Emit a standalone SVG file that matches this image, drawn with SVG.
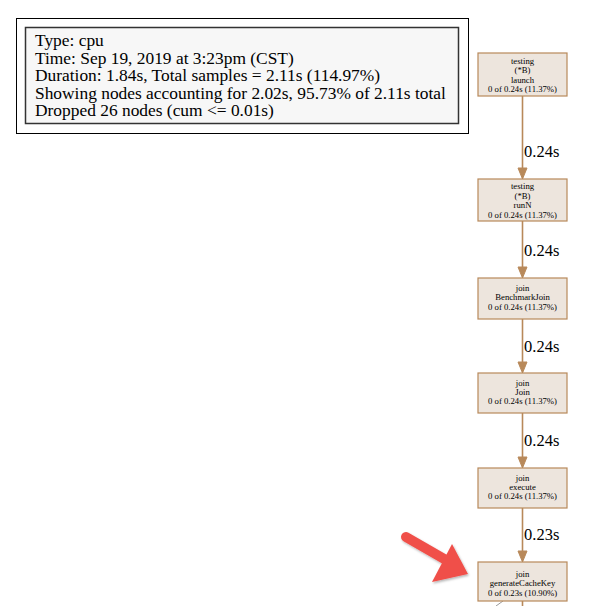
<svg xmlns="http://www.w3.org/2000/svg" width="608" height="606" viewBox="0 0 608 606">
<defs>
<style>
.hdr{font-family:"Liberation Serif","Times New Roman",serif;font-size:17.4px;fill:#000}
.node rect{fill:#ede5dd;stroke:#b8895a;stroke-width:1.2}
.node text{font-family:"Liberation Serif","Times New Roman",serif;font-size:8.7px;fill:#000;text-anchor:middle}
.edge line{stroke:#b8895a;stroke-width:1.6}
.edge polygon{fill:#b8895a;stroke:#b8895a}
.elabel{font-family:"Liberation Serif","Times New Roman",serif;font-size:16.5px;fill:#000}
</style>
<filter id="sh" x="-20%" y="-20%" width="140%" height="140%">
<feDropShadow dx="1" dy="1.5" stdDeviation="1.2" flood-color="#000" flood-opacity="0.3"/>
</filter>
</defs>
<rect width="608" height="606" fill="#fff"/>
<g id="legend">
<rect x="16.5" y="18.5" width="452" height="115" fill="#fff" stroke="#000" stroke-width="1"/>
<rect x="25.5" y="27.5" width="433" height="96" fill="#f7f7f7" stroke="#333" stroke-width="1.5"/>
<text class="hdr" x="35" y="46">Type: cpu</text>
<text class="hdr" x="35" y="63.5">Time: Sep 19, 2019 at 3:23pm (CST)</text>
<text class="hdr" x="35" y="81">Duration: 1.84s, Total samples = 2.11s (114.97%)</text>
<text class="hdr" x="35" y="98.5">Showing nodes accounting for 2.02s, 95.73% of 2.11s total</text>
<text class="hdr" x="35" y="116">Dropped 26 nodes (cum &lt;= 0.01s)</text>
</g>
<g id="edges" class="edge">
<line x1="522.5" y1="96" x2="522.5" y2="169"/>
<polygon points="518,168 527,168 522.5,179"/>
<text class="elabel" x="524" y="157">0.24s</text>
<line x1="522.5" y1="221" x2="522.5" y2="268"/>
<polygon points="518,267 527,267 522.5,278"/>
<text class="elabel" x="524" y="256">0.24s</text>
<line x1="522.5" y1="319" x2="522.5" y2="363"/>
<polygon points="518,362 527,362 522.5,373"/>
<text class="elabel" x="524" y="352">0.24s</text>
<line x1="522.5" y1="413" x2="522.5" y2="458"/>
<polygon points="518,457 527,457 522.5,468"/>
<text class="elabel" x="524" y="446">0.24s</text>
<line x1="522.5" y1="508" x2="522.5" y2="552"/>
<polygon points="518,551 527,551 522.5,562"/>
<text class="elabel" x="524" y="540">0.23s</text>
<line x1="522.5" y1="601" x2="522.5" y2="606"/>
<line x1="503" y1="601" x2="496" y2="606" style="stroke:#999;stroke-width:1"/>
</g>
<g id="n1" class="node">
<rect x="478" y="53" width="89" height="43"/>
<text x="522.5" y="63.5">testing</text>
<text x="522.5" y="73">(*B)</text>
<text x="522.5" y="82.5">launch</text>
<text x="522.5" y="92">0 of 0.24s (11.37%)</text>
</g>
<g id="n2" class="node">
<rect x="478" y="179" width="89" height="42"/>
<text x="522.5" y="189">testing</text>
<text x="522.5" y="198.5">(*B)</text>
<text x="522.5" y="208">runN</text>
<text x="522.5" y="217.5">0 of 0.24s (11.37%)</text>
</g>
<g id="n3" class="node">
<rect x="478" y="278" width="89" height="41"/>
<text x="522.5" y="291">join</text>
<text x="522.5" y="300">BenchmarkJoin</text>
<text x="522.5" y="309.5">0 of 0.24s (11.37%)</text>
</g>
<g id="n4" class="node">
<rect x="478" y="373" width="89" height="40"/>
<text x="522.5" y="385.5">join</text>
<text x="522.5" y="394.5">Join</text>
<text x="522.5" y="404">0 of 0.24s (11.37%)</text>
</g>
<g id="n5" class="node">
<rect x="478" y="468" width="89" height="40"/>
<text x="522.5" y="480.5">join</text>
<text x="522.5" y="489.5">execute</text>
<text x="522.5" y="499">0 of 0.24s (11.37%)</text>
</g>
<g id="n6" class="node">
<rect x="478" y="562" width="89" height="39"/>
<text x="522.5" y="577">join</text>
<text x="522.5" y="586">generateCacheKey</text>
<text x="522.5" y="595.5">0 of 0.23s (10.90%)</text>
</g>
<g id="pointer" filter="url(#sh)">
<line x1="406" y1="537" x2="446" y2="560" stroke="#f0504a" stroke-width="10" stroke-linecap="round"/>
<polygon points="452,544 468,574 432,582" fill="#f0504a"/>
</g>
</svg>
